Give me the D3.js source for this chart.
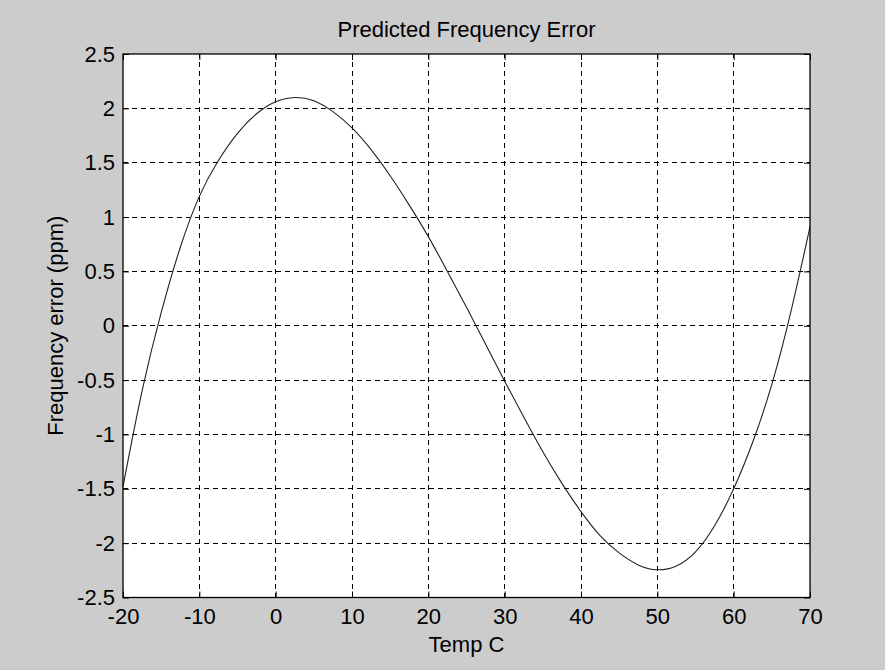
<!DOCTYPE html>
<html>
<head>
<meta charset="utf-8">
<script src="https://cdn.jsdelivr.net/npm/d3@7"></script>
<style>
  body { margin: 0; background: #cccccc; }
  text { font-family: "Liberation Sans", Arial, Helvetica, sans-serif; fill: #000; }
</style>
</head>
<body>
<div id="chart"></div>
<script>
// temperature (C) and predicted error (ppm)
var temps = [-20, -17.5, -15, -12.5, -10, -7.5, -5, -2.5, 0, 2.5, 5, 7.5, 10, 12.5, 15, 17.5,
             20, 22.5, 25, 27.5, 30, 32.5, 35, 37.5, 40, 42.5, 45, 47.5, 50, 52.5, 55, 57.5,
             60, 62.5, 65, 67.5, 70];
var errors = [-1.48, -0.60, 0.12, 0.72, 1.19, 1.52, 1.77, 1.95, 2.06, 2.10, 2.07, 1.97, 1.82, 1.62, 1.38, 1.11,
              0.82, 0.50, 0.17, -0.17, -0.51, -0.84, -1.16, -1.45, -1.71, -1.93, -2.09, -2.20, -2.245, -2.21, -2.08, -1.84,
              -1.50, -1.07, -0.54, 0.13, 0.91];

var xTicks = [-20, -10, 0, 10, 20, 30, 40, 50, 60, 70];
var yTicks = [-2.5, -2, -1.5, -1, -0.5, 0, 0.5, 1, 1.5, 2, 2.5];

var titleText = "Predicted Frequency Error",
    xLabel = "Temp C",
    yLabel = "Frequency error (ppm)";

var W = 885, H = 670;
var pL = 123, pR = 810, pT = 54, pB = 597.5;
var fs = 22;

var svg = d3.select("#chart").append("svg")
    .attr("width", W).attr("height", H);

svg.append("rect").attr("width", W).attr("height", H).attr("fill", "#cccccc");
svg.append("rect").attr("x", pL).attr("y", pT)
    .attr("width", pR - pL).attr("height", pB - pT).attr("fill", "#fff");

var x = d3.scaleLinear().domain([-20, 70]).range([pL, pR]);
var y = d3.scaleLinear().domain([-2.5, 2.5]).range([pB, pT]);

var fmt = function(d) { return String(d); };

// dashed grid
var grid = svg.append("g").attr("stroke", "#000").attr("stroke-width", 1)
    .attr("stroke-dasharray", "5,4").attr("shape-rendering", "crispEdges");
grid.selectAll(".vx").data(xTicks.slice(1, -1)).enter().append("line")
    .attr("x1", function(d) { return x(d); }).attr("x2", function(d) { return x(d); })
    .attr("y1", pB).attr("y2", pT);
grid.selectAll(".hy").data(yTicks.slice(1, -1)).enter().append("line")
    .attr("y1", function(d) { return y(d); }).attr("y2", function(d) { return y(d); })
    .attr("x1", pL).attr("x2", pR);

// curve
var line = d3.line()
    .x(function(d, i) { return x(temps[i]); })
    .y(function(d) { return y(d); })
    .curve(d3.curveNatural);

svg.append("path").datum(errors)
    .attr("fill", "none").attr("stroke", "#222").attr("stroke-width", 1.1)
    .attr("d", line);

// axes, ticks pointing inward
var tick = 6;
var gx = svg.append("g").attr("transform", "translate(0," + pB + ")")
    .call(d3.axisBottom(x).tickValues(xTicks).tickFormat(fmt).tickSizeInner(-tick).tickSizeOuter(0).tickPadding(11));
var gy = svg.append("g").attr("transform", "translate(" + pL + ",0)")
    .call(d3.axisLeft(y).tickValues(yTicks).tickFormat(fmt).tickSizeInner(-tick).tickSizeOuter(0).tickPadding(8));
var gt = svg.append("g").attr("transform", "translate(0," + pT + ")")
    .call(d3.axisTop(x).tickValues(xTicks).tickFormat("").tickSizeInner(-tick).tickSizeOuter(0));
var gr = svg.append("g").attr("transform", "translate(" + pR + ",0)")
    .call(d3.axisRight(y).tickValues(yTicks).tickFormat("").tickSizeInner(-tick).tickSizeOuter(0));

[gx, gy, gt, gr].forEach(function(g) {
  g.select(".domain").remove();
  g.selectAll("line").attr("stroke", "#000");
  g.selectAll("text").attr("font-size", fs)
    .attr("font-family", "'Liberation Sans', Arial, Helvetica, sans-serif").attr("fill", "#000");
});

// box
svg.append("rect").attr("x", pL).attr("y", pT)
    .attr("width", pR - pL).attr("height", pB - pT)
    .attr("fill", "none").attr("stroke", "#000").attr("stroke-width", 1.3);

// labels
svg.append("text").attr("x", (pL + pR) / 2).attr("y", 37)
    .attr("text-anchor", "middle").attr("font-size", fs).text(titleText);
svg.append("text").attr("x", (pL + pR) / 2).attr("y", 652)
    .attr("text-anchor", "middle").attr("font-size", fs).text(xLabel);
svg.append("text").attr("transform", "translate(63," + (pT + pB) / 2 + ") rotate(-90)")
    .attr("text-anchor", "middle").attr("font-size", fs).text(yLabel);
</script>
</body>
</html>
